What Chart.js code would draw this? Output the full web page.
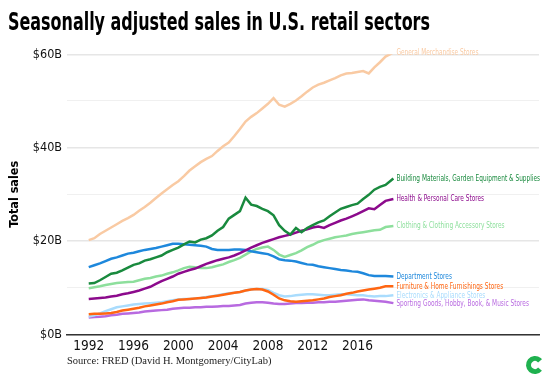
<!DOCTYPE html>
<html>
<head>
<meta charset="utf-8">
<script src="https://cdn.jsdelivr.net/npm/chart.js@4"></script>
<style>
  html, body { margin: 0; padding: 0; background: #fff; }
  canvas { display: block; }
</style>
</head>
<body>
<canvas id="salesChart" width="548" height="378"></canvas>
<script>
 // Half-year sample points ($ billions)
 const years = [1992, 1992.5, 1993, 1993.5, 1994, 1994.5, 1995, 1995.5, 1996, 1996.5,
     1997, 1997.5, 1998, 1998.5, 1999, 1999.5, 2000, 2000.5, 2001, 2001.5,
     2002, 2002.5, 2003, 2003.5, 2004, 2004.5, 2005, 2005.5, 2006, 2006.5,
     2007, 2007.5, 2008, 2008.5, 2009, 2009.5, 2010, 2010.5, 2011, 2011.5,
     2012, 2012.5, 2013, 2013.5, 2014, 2014.5, 2015, 2015.5, 2016, 2016.5,
     2017, 2017.5, 2018, 2018.5, 2019.2];

 const generalMerch = [20.2, 20.6, 21.5, 22.2, 22.9, 23.6, 24.3, 24.9, 25.6, 26.5,
     27.3, 28.2, 29.2, 30.2, 31.1, 32.0, 32.8, 33.9, 35.1, 36.0,
     36.9, 37.6, 38.2, 39.3, 40.3, 41.1, 42.5, 44.0, 45.6, 46.6,
     47.4, 48.4, 49.4, 50.6, 49.2, 48.8, 49.4, 50.1, 51.0, 52.0,
     52.9, 53.5, 53.9, 54.4, 54.9, 55.5, 55.9, 56.0, 56.2, 56.4,
     55.9, 57.2, 58.3, 59.5, 60.4];

 const buildingMaterials = [10.9, 11.0, 11.6, 12.3, 13.0, 13.2, 13.7, 14.3, 14.9, 15.2,
     15.8, 16.1, 16.5, 16.9, 17.6, 18.1, 18.6, 19.3, 19.9, 19.7,
     20.3, 20.6, 21.2, 22.2, 23.0, 24.8, 25.6, 26.4, 29.3, 27.8,
     27.5, 26.9, 26.4, 25.5, 23.4, 22.2, 21.4, 22.8, 21.9, 22.8,
     23.4, 24.0, 24.4, 25.3, 26.1, 26.9, 27.3, 27.7, 28.0, 29.0,
     29.9, 31.0, 31.6, 32.0, 33.4];

 const healthCare = [7.6, 7.7, 7.8, 7.9, 8.1, 8.3, 8.6, 8.8, 9.1, 9.4,
     9.8, 10.2, 10.8, 11.4, 11.9, 12.4, 13.0, 13.4, 13.8, 14.1,
     14.6, 15.1, 15.5, 15.9, 16.2, 16.5, 16.9, 17.4, 18.0, 18.6,
     19.1, 19.6, 20.0, 20.4, 20.8, 21.1, 21.4, 21.8, 22.2, 22.5,
     22.9, 23.1, 22.8, 23.4, 23.9, 24.4, 24.8, 25.3, 25.8, 26.4,
     27.0, 26.8, 27.7, 28.6, 29.0];

 const clothing = [9.9, 10.1, 10.3, 10.6, 10.8, 11.0, 11.1, 11.2, 11.3, 11.6,
     11.9, 12.1, 12.4, 12.6, 13.0, 13.3, 13.7, 14.2, 14.5, 14.4,
     14.2, 14.2, 14.4, 14.7, 15.0, 15.5, 15.9, 16.4, 17.1, 17.8,
     18.3, 18.6, 18.8, 18.1, 17.1, 16.6, 17.0, 17.4, 18.0, 18.7,
     19.2, 19.8, 20.2, 20.5, 20.8, 21.0, 21.2, 21.5, 21.7, 21.9,
     22.1, 22.3, 22.4, 23.0, 23.2];

 const department = [14.4, 14.8, 15.2, 15.7, 16.2, 16.5, 16.9, 17.3, 17.5, 17.8,
     18.1, 18.3, 18.5, 18.8, 19.1, 19.4, 19.4, 19.3, 19.2, 19.1,
     19.0, 18.8, 18.3, 18.1, 18.1, 18.1, 18.2, 18.2, 18.1, 17.8,
     17.6, 17.4, 17.2, 16.7, 16.1, 15.9, 15.8, 15.6, 15.3, 15.0,
     14.9, 14.6, 14.4, 14.2, 14.0, 13.8, 13.7, 13.5, 13.4, 13.1,
     12.7, 12.5, 12.5, 12.5, 12.4];

 const furniture = [4.3, 4.4, 4.4, 4.5, 4.6, 4.8, 5.1, 5.3, 5.5, 5.7,
     6.0, 6.2, 6.4, 6.6, 6.9, 7.1, 7.4, 7.5, 7.6, 7.7,
     7.8, 7.9, 8.1, 8.3, 8.5, 8.7, 8.9, 9.1, 9.4, 9.6,
     9.7, 9.6, 9.2, 8.5, 7.7, 7.3, 7.1, 7.0, 7.1, 7.2,
     7.3, 7.5, 7.7, 8.0, 8.2, 8.4, 8.7, 8.9, 9.2, 9.4,
     9.6, 9.8, 10.0, 10.3, 10.3];

 const electronics = [3.8, 4.1, 4.5, 5.0, 5.4, 5.8, 6.0, 6.2, 6.4, 6.5,
     6.6, 6.7, 6.8, 6.9, 7.1, 7.3, 7.5, 7.6, 7.6, 7.7,
     7.8, 8.0, 8.2, 8.4, 8.6, 8.8, 8.9, 9.1, 9.4, 9.6,
     9.7, 9.7, 9.5, 8.9, 8.4, 8.1, 8.2, 8.4, 8.5, 8.6,
     8.6, 8.5, 8.4, 8.4, 8.5, 8.6, 8.6, 8.5, 8.4, 8.4,
     8.2, 8.1, 8.2, 8.2, 8.4];

 const sporting = [3.6, 3.7, 3.8, 3.9, 4.1, 4.2, 4.4, 4.5, 4.6, 4.7,
     4.9, 5.0, 5.1, 5.2, 5.3, 5.5, 5.6, 5.7, 5.7, 5.8,
     5.8, 5.9, 5.9, 6.0, 6.1, 6.1, 6.2, 6.3, 6.6, 6.8,
     6.9, 6.9, 6.8, 6.6, 6.5, 6.5, 6.6, 6.7, 6.7, 6.8,
     6.8, 6.9, 6.9, 7.0, 7.0, 7.1, 7.2, 7.3, 7.4, 7.5,
     7.3, 7.2, 7.1, 7.0, 6.7];

 const xTicks = [1992, 1996, 2000, 2004, 2008, 2012, 2016];
 const yTickLabels = { 0: '$0B', 20: '$20B', 40: '$40B', 60: '$60B' };

 const NARROW = '"DejaVu Sans Condensed", "Liberation Sans Narrow", sans-serif';

 function series(label, values, color) {
     return {
         label: label,
         data: values.map((v, i) => ({ x: years[i], y: v })),
         borderColor: color,
         borderWidth: 2.5,
         pointRadius: 0,
         tension: 0,
         fill: false
     };
 }

 // first dataset ends up on top
 const datasets = [
     series('Building Materials, Garden Equipment & Supplies', buildingMaterials, '#198a3e'),
     series('Health & Personal Care Stores', healthCare, '#8c0a8c'),
     series('Department Stores', department, '#1e88dc'),
     series('Furniture & Home Furnishings Stores', furniture, '#ff6612'),
     series('General Merchandise Stores', generalMerch, '#f9caa3'),
     series('Clothing & Clothing Accessory Stores', clothing, '#8ddf9c'),
     series('Electronics & Appliance Stores', electronics, '#a9dcfd'),
     series('Sporting Goods, Hobby, Book, & Music Stores', sporting, '#b86ae0')
 ];

 // Title, end-of-line labels, source and logo
 const decorations = {
     id: 'decorations',
     afterDatasetsDraw(chart) {
         const ctx = chart.ctx;
         const xs = chart.scales.x;
         const ys = chart.scales.y;

         // labels at the end of each line, nudged apart when they collide
         const items = chart.data.datasets.map(ds => {
             const last = ds.data[ds.data.length - 1];
             return {
                 text: ds.label,
                 color: ds.borderColor,
                 x: xs.getPixelForValue(last.x) + 3,
                 y: ys.getPixelForValue(last.y)
             };
         }).sort((a, b) => a.y - b.y);
         for (let i = 1; i < items.length; i++) {
             if (items[i].y - items[i - 1].y < 8.6) items[i].y = items[i - 1].y + 8.6;
         }
         ctx.save();
         ctx.font = '9px ' + NARROW;
         ctx.textBaseline = 'middle';
         ctx.textAlign = 'left';
         items.forEach(it => {
             ctx.fillStyle = it.color;
             ctx.fillText(it.text, it.x, it.y, ctx.measureText(it.text).width * 0.72);
         });

         // title
         ctx.fillStyle = '#000';
         ctx.font = '700 25px ' + NARROW;
         ctx.textBaseline = 'alphabetic';
         ctx.fillText('Seasonally adjusted sales in U.S. retail sectors', 8, 30, 422);

         // source
         ctx.fillStyle = '#222';
         ctx.font = '10.5px "Liberation Serif", "DejaVu Serif", serif';
         ctx.fillText('Source: FRED (David H. Montgomery/CityLab)', 67, 364);

         // logo
         ctx.strokeStyle = '#1fb14f';
         ctx.lineWidth = 5;
         ctx.beginPath();
         ctx.arc(535, 365, 6.5, 0.22 * Math.PI, 1.78 * Math.PI);
         ctx.stroke();
         ctx.restore();
     }
 };

 const salesCtx = document.getElementById('salesChart').getContext('2d');
 new Chart(salesCtx, {
     type: 'line',
     data: { datasets: datasets },
     plugins: [decorations],
     options: {
         responsive: false,
         animation: false,
         devicePixelRatio: 1,
         layout: {
             padding: { top: 54.3, right: 9, bottom: 19.6, left: 0 }
         },
         plugins: {
             legend: { display: false },
             tooltip: { enabled: false }
         },
         scales: {
             x: {
                 type: 'linear',
                 min: 1990.06,
                 max: 2032.2,
                 afterBuildTicks: s => { s.ticks = xTicks.map(v => ({ value: v })); },
                 afterFit: s => { s.height = 24; },
                 grid: { display: false, drawTicks: false },
                 border: { display: true, color: '#333', width: 1.5 },
                 ticks: {
                     color: '#111',
                     padding: 4,
                     maxRotation: 0,
                     autoSkip: false,
                     font: { family: NARROW, size: 13.5 },
                     callback: v => String(v)
                 }
             },
             y: {
                 min: 0,
                 max: 60,
                 afterFit: s => { s.width = 67; },
                 border: { display: false },
                 grid: {
                     drawTicks: false,
                     color: c => (c.tick && c.tick.value % 20 === 0) ? '#e6e6e6' : '#f0f0f0',
                     lineWidth: c => (c.tick && c.tick.value % 20 === 0) ? 1.5 : 1
                 },
                 ticks: {
                     stepSize: 10,
                     color: '#111',
                     padding: 5,
                     font: { family: NARROW, size: 12.5 },
                     callback: v => yTickLabels[v] || ''
                 },
                 title: {
                     display: true,
                     text: 'Total sales',
                     color: '#000',
                     padding: { top: 7, bottom: 0 },
                     font: { family: NARROW, size: 12.5, weight: 'bold' }
                 }
             }
         }
     }
 });
</script>
</body>
</html>
